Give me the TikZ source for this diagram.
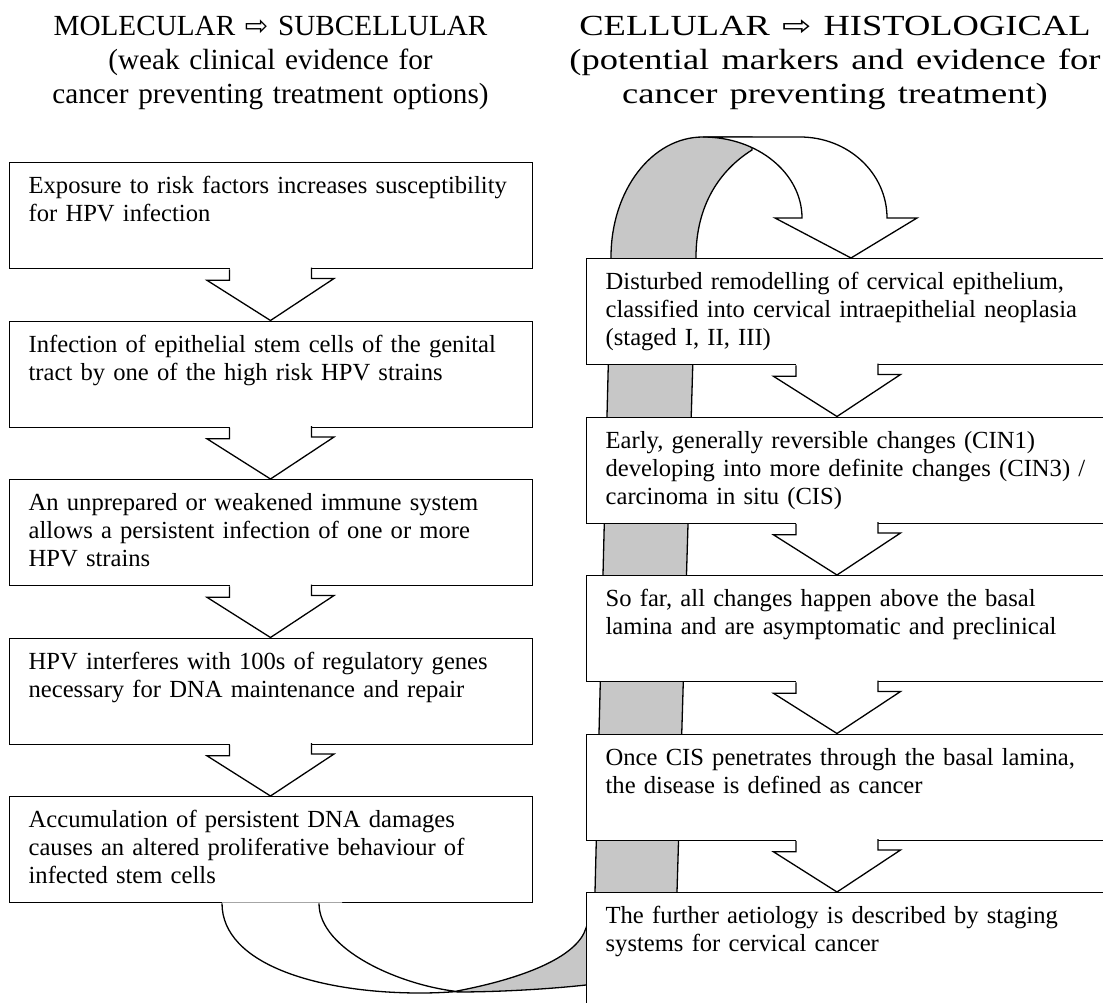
\documentclass[tikz,border=0pt]{standalone}
\usepackage{fontspec}
\setmainfont{Liberation Serif}
\newfontfamily\arrowfont{DejaVu Sans}
\usetikzlibrary{calc}
\definecolor{ribbon}{gray}{0.78}
\tikzset{
  outline/.style={draw=black, line width=1.3pt, line join=miter},
  stage/.style={outline, fill=white, anchor=north west, align=left,
    inner xsep=19pt, inner ysep=0pt, text height=31pt, text depth=75pt,
    font=\fontsize{24.6}{28}\selectfont},
  leftstage/.style={stage, text width=485pt},
  rightstage/.style={stage, text width=520pt},
  header/.style={anchor=north, align=center, text width=560pt, inner sep=0pt,
    text height=25pt, font=\fontsize{29.2}{34}\selectfont},
  wideheader/.style={header, text width=440pt, xscale=1.25, transform shape},
}
% hollow arrow sign used in the column titles
\newcommand\hollowarrow{{\arrowfont\fontsize{28}{34}\selectfont ⇨}}
% block arrow from the bottom of #1 to the top of #2, #3 = offset from the west side
\newcommand\blockarrow[3]{%
  \fill[white] ($(#1.south west)+(#3-41,-1)$) rectangle ($(#1.south west)+(#3+41,0)$);
  \draw[outline, fill=white] ($(#1.south west)+(#3-41,0)$) -- ++(0,11) -- ++(-22.5,0)
    -- ($(#2.north west)+(#3,0)$) -- ++(63.5,-42) -- ++(-22.5,0) -- ++(0,-11);
}
\begin{document}
\begin{tikzpicture}[x=1pt,y=-1pt]
\useasboundingbox (0,0) rectangle (1103,1003);
\fill[white] (0,0) rectangle (1103,1003);

% back face of the ribbon arrow, running behind the right column
\draw[outline, fill=ribbon] (457,991) .. controls (530,977) and (578,955) .. (586,928)
  .. controls (591,915) and (595,900) .. (595,892) -- (611,257)
  .. controls (611,190.7) and (651.6,137) .. (703,137) -- (752,137) -- (752,150)
  .. controls (720,170) and (696,205) .. (696,257) -- (677,892)
  .. controls (677,940) and (640,975) .. (586,985)
  .. controls (540,990) and (490,992) .. (457,992) -- cycle;

% column titles
\node[header] (hl) at (270.5,10) {MOLECULAR \hollowarrow{} SUBCELLULAR\\(weak clinical evidence for\\cancer preventing treatment options)};
\node[wideheader] (hr) at (835,10) {CELLULAR \hollowarrow{} HISTOLOGICAL\\(potential markers and evidence for\\cancer preventing treatment)};

% left column
\node[leftstage] (L1) at (9,162) {Exposure to risk factors increases susceptibility\\for HPV infection};
\node[leftstage] (L2) at (9,320.5) {Infection of epithelial stem cells of the genital\\tract by one of the high risk HPV strains};
\node[leftstage] (L3) at (9,479) {An unprepared or weakened immune system\\allows a persistent infection of one or more\\HPV strains};
\node[leftstage] (L4) at (9,637.5) {HPV interferes with 100s of regulatory genes\\necessary for DNA maintenance and repair};
\node[leftstage] (L5) at (9,796) {Accumulation of persistent DNA damages\\causes an altered proliferative behaviour of\\infected stem cells};

% right column (the last box runs on past the lower edge)
\node[rightstage] (R1) at (586,258) {Disturbed remodelling of cervical epithelium,\\classified into cervical intraepithelial neoplasia\\(staged I, II, III)};
\node[rightstage] (R2) at (586,416.5) {Early, generally reversible changes (CIN1)\\developing into more definite changes (CIN3) /\\carcinoma in situ (CIS)};
\node[rightstage] (R3) at (586,575) {So far, all changes happen above the basal\\lamina and are asymptomatic and preclinical};
\node[rightstage] (R4) at (586,733.5) {Once CIS penetrates through the basal lamina,\\the disease is defined as cancer};
\node[rightstage, text depth=110pt] (R5) at (586,892) {The further aetiology is described by staging\\systems for cervical cancer};

% step arrows
\blockarrow{L1}{L2}{261.5}
\blockarrow{L2}{L3}{261.5}
\blockarrow{L3}{L4}{261.5}
\blockarrow{L4}{L5}{261.5}
\blockarrow{R1}{R2}{251}
\blockarrow{R2}{R3}{251}
\blockarrow{R3}{R4}{251}
\blockarrow{R4}{R5}{251}

% ribbon arrow: tail under the left column, head onto the right column
\coordinate (tail1) at ($(L5.south west)+(213,0)$);
\coordinate (tail2) at ($(L5.south west)+(310,0)$);
\coordinate (head) at ($(R1.north west)+(265,0)$);

% front face over the top, ending in the head
\draw[outline, fill=white] (703,137) -- (800,137) .. controls (848,137) and (887,173) .. (887,218)
  -- (917,218) -- (head) -- (775,218) -- (802,218)
  .. controls (802,173.3) and (757.7,137) .. (703,137) -- cycle;

% front face of the tail (its white body opens the box edge it leaves)
\fill[white] ($(tail1)+(0,-1)$) -- (tail1) .. controls (222,965) and (320,993) .. (420,993)
  .. controls (435,993) and (447,992.3) .. (457,991.5)
  .. controls (400,985) and (319,950) .. (tail2) -- ($(tail2)+(23,1)$)
  -- ($(tail2)+(23,-1)$) -- cycle;
\draw[outline] (tail1) .. controls (222,965) and (320,993) .. (420,993)
  .. controls (435,993) and (447,992.3) .. (457,991.5)
  .. controls (400,985) and (319,950) .. (tail2);
\end{tikzpicture}
\end{document}
